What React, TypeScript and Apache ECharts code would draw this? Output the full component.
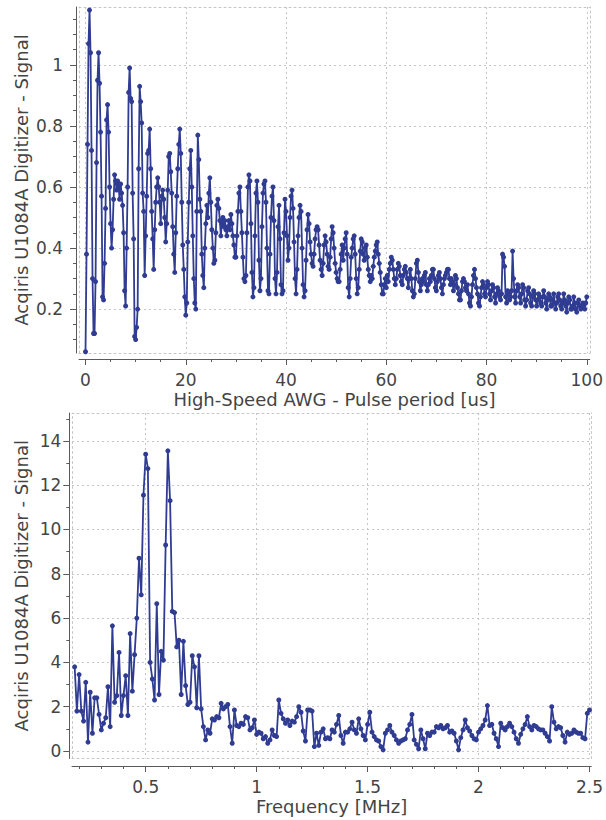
import React, { useEffect, useRef } from "react";
import * as echarts from "echarts";

// ---- Top chart: signal vs pulse period (sampled every 0.2 us from 0 us) ----
const PULSE_T0 = 0;
const PULSE_DT = 0.2;
const PULSE_SIGNAL = [
  0.06,0.38,0.74,1.07,1.18,1.04,0.72,0.30,0.12,0.12,0.29,0.68,0.95,1.04,0.94,0.78,0.57,0.24,0.23,0.35,0.53,0.82,0.87,0.78,0.60,
  0.48,0.40,0.46,0.56,0.64,0.62,0.59,0.62,0.60,0.56,0.61,0.58,0.54,0.45,0.26,0.21,0.40,0.60,0.91,0.99,0.89,0.88,0.58,0.43,0.11,
  0.10,0.14,0.20,0.66,0.93,0.88,0.81,0.58,0.52,0.31,0.44,0.57,0.71,0.72,0.79,0.66,0.52,0.43,0.33,0.46,0.55,0.60,0.63,0.60,0.55,
  0.48,0.57,0.59,0.56,0.50,0.42,0.48,0.59,0.70,0.71,0.65,0.58,0.47,0.38,0.32,0.45,0.57,0.66,0.74,0.79,0.71,0.55,0.41,0.33,0.24,
  0.18,0.22,0.42,0.55,0.66,0.72,0.60,0.44,0.30,0.22,0.20,0.52,0.77,0.69,0.56,0.52,0.38,0.31,0.27,0.40,0.48,0.54,0.50,0.58,0.63,
  0.55,0.46,0.40,0.35,0.36,0.45,0.54,0.56,0.53,0.49,0.44,0.48,0.50,0.47,0.49,0.46,0.44,0.47,0.49,0.46,0.51,0.48,0.44,0.41,0.37,
  0.37,0.44,0.52,0.58,0.60,0.52,0.45,0.37,0.30,0.29,0.31,0.45,0.60,0.64,0.62,0.48,0.32,0.24,0.27,0.44,0.58,0.62,0.55,0.36,0.26,
  0.30,0.47,0.58,0.61,0.62,0.55,0.40,0.26,0.25,0.38,0.50,0.57,0.60,0.49,0.30,0.25,0.32,0.47,0.54,0.43,0.28,0.25,0.26,0.45,0.56,
  0.52,0.44,0.36,0.40,0.50,0.57,0.59,0.53,0.42,0.30,0.25,0.33,0.44,0.50,0.54,0.52,0.40,0.28,0.24,0.26,0.36,0.46,0.51,0.48,0.42,
  0.38,0.35,0.34,0.38,0.43,0.46,0.47,0.46,0.41,0.36,0.33,0.31,0.35,0.41,0.44,0.42,0.38,0.34,0.33,0.37,0.43,0.47,0.45,0.40,0.35,
  0.32,0.30,0.29,0.29,0.33,0.38,0.41,0.36,0.40,0.43,0.45,0.38,0.27,0.24,0.30,0.37,0.40,0.43,0.44,0.38,0.30,0.25,0.27,0.33,0.39,
  0.43,0.42,0.38,0.36,0.40,0.41,0.37,0.33,0.31,0.29,0.31,0.30,0.34,0.37,0.39,0.41,0.42,0.38,0.35,0.32,0.28,0.25,0.25,0.28,0.30,
  0.27,0.31,0.29,0.33,0.35,0.37,0.36,0.33,0.30,0.28,0.30,0.33,0.35,0.34,0.31,0.29,0.28,0.31,0.33,0.34,0.32,0.30,0.27,0.30,0.33,
  0.30,0.26,0.24,0.25,0.30,0.35,0.36,0.32,0.29,0.26,0.28,0.30,0.29,0.31,0.32,0.28,0.26,0.28,0.30,0.29,0.31,0.33,0.33,0.30,0.27,
  0.26,0.29,0.31,0.32,0.30,0.27,0.25,0.28,0.30,0.31,0.32,0.33,0.33,0.30,0.28,0.30,0.29,0.26,0.28,0.31,0.30,0.27,0.25,0.23,0.23,
  0.26,0.29,0.30,0.29,0.27,0.26,0.28,0.25,0.22,0.21,0.24,0.28,0.31,0.33,0.30,0.27,0.25,0.22,0.21,0.24,0.27,0.29,0.28,0.25,0.24,
  0.27,0.29,0.28,0.25,0.23,0.26,0.28,0.27,0.24,0.22,0.25,0.27,0.26,0.24,0.23,0.25,0.38,0.37,0.34,0.24,0.22,0.26,0.25,0.23,0.24,
  0.26,0.39,0.30,0.24,0.22,0.26,0.28,0.27,0.24,0.22,0.25,0.28,0.27,0.23,0.21,0.23,0.26,0.27,0.25,0.22,0.21,0.24,0.26,0.25,0.23,
  0.21,0.23,0.25,0.24,0.22,0.21,0.24,0.26,0.24,0.22,0.20,0.23,0.25,0.24,0.21,0.21,0.23,0.25,0.22,0.20,0.22,0.24,0.25,0.23,0.21,
  0.20,0.22,0.25,0.23,0.21,0.19,0.22,0.24,0.23,0.20,0.20,0.21,0.24,0.22,0.20,0.19,0.22,0.23,0.21,0.20,0.21,0.22,0.21,0.20,0.22,
  0.24,
];

// ---- Bottom chart: spectrum (sampled every 0.01 MHz from 0.18 MHz) ----
const FREQ_F0 = 0.18;
const FREQ_DF = 0.01;
const FREQ_SIGNAL = [
  3.80,1.80,3.45,1.80,1.35,3.10,0.40,2.65,0.80,2.40,
  2.40,1.65,0.95,1.25,1.50,2.90,1.10,5.65,2.20,2.50,
  4.45,1.60,2.50,3.40,1.60,5.30,2.70,4.35,6.00,8.70,
  7.05,11.55,13.40,12.75,4.00,3.25,2.30,6.65,2.55,4.50,
  4.10,9.30,13.55,11.30,6.30,6.25,4.70,5.00,2.55,4.95,
  2.95,2.10,2.20,4.30,3.80,1.95,4.30,1.90,1.10,0.50,
  0.95,0.80,1.45,1.40,1.55,1.50,2.15,1.90,2.00,2.10,
  1.10,0.35,1.85,1.15,1.10,1.25,1.20,1.55,1.50,0.95,
  1.05,1.40,0.75,0.85,0.80,0.55,0.65,0.35,0.50,0.95,
  0.70,0.65,2.30,1.70,1.45,1.25,1.40,1.15,1.35,1.30,
  1.55,2.00,1.75,0.90,0.45,1.85,1.85,1.80,0.20,0.80,
  0.25,0.85,1.00,0.55,0.60,0.55,0.95,0.85,1.20,1.60,
  0.70,0.35,0.85,0.85,1.00,1.30,0.95,0.80,1.45,1.00,
  0.70,0.50,1.20,1.75,0.85,0.65,0.50,0.45,0.20,0.05,
  0.80,0.95,1.15,0.85,0.70,0.50,0.35,0.45,0.50,0.55,
  0.95,1.20,1.65,0.50,0.30,0.10,0.95,0.55,0.10,0.80,
  0.70,0.85,0.85,1.10,1.05,1.15,1.00,1.05,1.15,0.85,
  0.90,0.80,0.45,0.05,0.60,0.95,1.40,1.05,0.90,0.70,
  0.55,0.50,0.85,1.00,1.15,1.40,2.05,1.15,1.20,0.80,
  0.55,0.20,1.25,1.05,0.95,1.10,1.25,1.10,0.85,0.55,
  0.35,0.75,1.00,1.20,1.55,1.10,0.95,1.15,1.10,1.00,
  0.95,0.95,0.80,0.65,0.45,2.00,1.30,1.00,1.10,1.05,
  0.70,0.40,0.85,0.75,0.80,0.95,0.85,0.80,0.80,0.60,
  0.55,1.70,1.85,
];

// ---- Tick values ----
const TOP_X_MAJOR = [0, 20, 40, 60, 80, 100];
const TOP_X_MINOR = [0, 5, 10, 15, 20, 25, 30, 35, 40, 45, 50, 55, 60, 65, 70, 75, 80, 85, 90, 95, 100];
const TOP_Y_MAJOR = [0.2, 0.4, 0.6, 0.8, 1];
const TOP_Y_MINOR = [0.1, 0.15, 0.2, 0.25, 0.3, 0.35, 0.4, 0.45, 0.5, 0.55, 0.6, 0.65, 0.7, 0.75, 0.8, 0.85, 0.9, 0.95, 1, 1.05, 1.1, 1.15];
const BOT_X_MAJOR = [0.5, 1, 1.5, 2, 2.5];
const BOT_X_MINOR = [0.2, 0.3, 0.4, 0.5, 0.6, 0.7, 0.8, 0.9, 1, 1.1, 1.2, 1.3, 1.4, 1.5, 1.6, 1.7, 1.8, 1.9, 2, 2.1, 2.2, 2.3, 2.4, 2.5];
const BOT_Y_MAJOR = [0, 2, 4, 6, 8, 10, 12, 14];
const BOT_Y_MINOR = [0, 1, 2, 3, 4, 5, 6, 7, 8, 9, 10, 11, 12, 13, 14, 15];

const TOP_X_NAME = "High-Speed AWG - Pulse period [us]";
const BOT_X_NAME = "Frequency [MHz]";
const Y_NAME = "Acqiris U1084A Digitizer - Signal";

const FONT = "'DejaVu Sans', Verdana, sans-serif";
const TEXT_C = "#444444";
const AXIS_C = "#5a5a5a";
const GRID_C = "#c6c6c6";
const LINE_C = "#2f3c92";

function mainAxis(o: any) {
  return {
    type: "value",
    gridIndex: o.grid,
    position: o.position,
    min: o.min,
    max: o.max,
    offset: o.offset,
    name: o.name,
    nameLocation: "middle",
    nameGap: o.nameGap,
    nameMoveOverlap: false,
    nameTextStyle: { fontSize: 18, color: TEXT_C, fontFamily: FONT },
    axisLine: { show: true, onZero: false, lineStyle: { color: AXIS_C, width: 1 } },
    axisTick: { show: true, length: 6, customValues: o.ticks, lineStyle: { color: AXIS_C, width: 1 } },
    axisLabel: { show: true, customValues: o.ticks, fontSize: 17, color: TEXT_C, fontFamily: FONT, margin: o.labelMargin },
    splitLine: { show: true, lineStyle: { color: GRID_C, width: 1, type: [2, 3] } },
    minorTick: { show: false },
  };
}

function minorAxis(o: any) {
  return {
    type: "value",
    gridIndex: o.grid,
    position: o.position,
    min: o.min,
    max: o.max,
    offset: o.offset,
    axisLine: { show: false, onZero: false },
    axisTick: { show: true, length: 3, customValues: o.ticks, lineStyle: { color: AXIS_C, width: 1 } },
    axisLabel: { show: false },
    splitLine: { show: false },
  };
}

function frameAxis(o: any) {
  return {
    type: "value",
    gridIndex: o.grid,
    position: o.position,
    min: o.min,
    max: o.max,
    offset: 0,
    axisLine: { show: true, onZero: false, lineStyle: { color: GRID_C, width: 1, type: [2, 3] } },
    axisTick: { show: false },
    axisLabel: { show: false },
    splitLine: { show: false },
  };
}

export default function App() {
  const ref = useRef<HTMLDivElement>(null);
  useEffect(() => {
    if (!ref.current) return;
    const chart = echarts.init(ref.current, undefined, { renderer: "svg" });

    const topData = PULSE_SIGNAL.map((v, i) => [+(PULSE_T0 + i * PULSE_DT).toFixed(2), v]);
    const botData = FREQ_SIGNAL.map((v, i) => [+(FREQ_F0 + i * FREQ_DF).toFixed(3), v]);

    const TX = { min: -1.3, max: 100.6 };
    const TY = { min: 0.056, max: 1.19 };
    const BX = { min: 0.168, max: 2.508 };
    const BY = { min: -0.34, max: 15.26 };

    const lineSeries = (xi: number, yi: number, data: number[][]) => ({
      type: "line",
      xAxisIndex: xi,
      yAxisIndex: yi,
      data,
      symbol: "circle",
      symbolSize: 5,
      showAllSymbol: true,
      lineStyle: { color: LINE_C, width: 1.8 },
      itemStyle: { color: LINE_C },
      silent: true,
    });

    chart.setOption({
      animation: false,
      backgroundColor: "#ffffff",
      textStyle: { fontFamily: FONT },
      grid: [
        { left: 79, top: 7, width: 514, height: 346 },
        { left: 72, top: 413, width: 523, height: 345.5 },
      ],
      xAxis: [
        mainAxis({ grid: 0, position: "bottom", ...TX, offset: 6, ticks: TOP_X_MAJOR, labelMargin: 12, name: TOP_X_NAME, nameGap: 31 }),
        minorAxis({ grid: 0, position: "bottom", ...TX, offset: 6, ticks: TOP_X_MINOR }),
        frameAxis({ grid: 0, position: "top", ...TX }),
        frameAxis({ grid: 0, position: "bottom", ...TX }),
        mainAxis({ grid: 1, position: "bottom", ...BX, offset: 7.5, ticks: BOT_X_MAJOR, labelMargin: 12, name: BOT_X_NAME, nameGap: 31 }),
        minorAxis({ grid: 1, position: "bottom", ...BX, offset: 7.5, ticks: BOT_X_MINOR }),
        frameAxis({ grid: 1, position: "top", ...BX }),
        frameAxis({ grid: 1, position: "bottom", ...BX }),
      ],
      yAxis: [
        mainAxis({ grid: 0, position: "left", ...TY, offset: 3, ticks: TOP_Y_MAJOR, labelMargin: 13, name: Y_NAME, nameGap: 46 }),
        minorAxis({ grid: 0, position: "left", ...TY, offset: 3, ticks: TOP_Y_MINOR }),
        frameAxis({ grid: 0, position: "left", ...TY }),
        frameAxis({ grid: 0, position: "right", ...TY }),
        mainAxis({ grid: 1, position: "left", ...BY, offset: 2.7, ticks: BOT_Y_MAJOR, labelMargin: 8, name: Y_NAME, nameGap: 39 }),
        minorAxis({ grid: 1, position: "left", ...BY, offset: 2.7, ticks: BOT_Y_MINOR }),
        frameAxis({ grid: 1, position: "left", ...BY }),
        frameAxis({ grid: 1, position: "right", ...BY }),
      ],
      series: [lineSeries(0, 0, topData), lineSeries(4, 4, botData)],
    });
    return () => chart.dispose();
  }, []);

  return (
    <div
      ref={ref}
      style={{ position: "fixed", left: 0, top: 0, width: 606, height: 820, background: "#fff" }}
    />
  );
}
